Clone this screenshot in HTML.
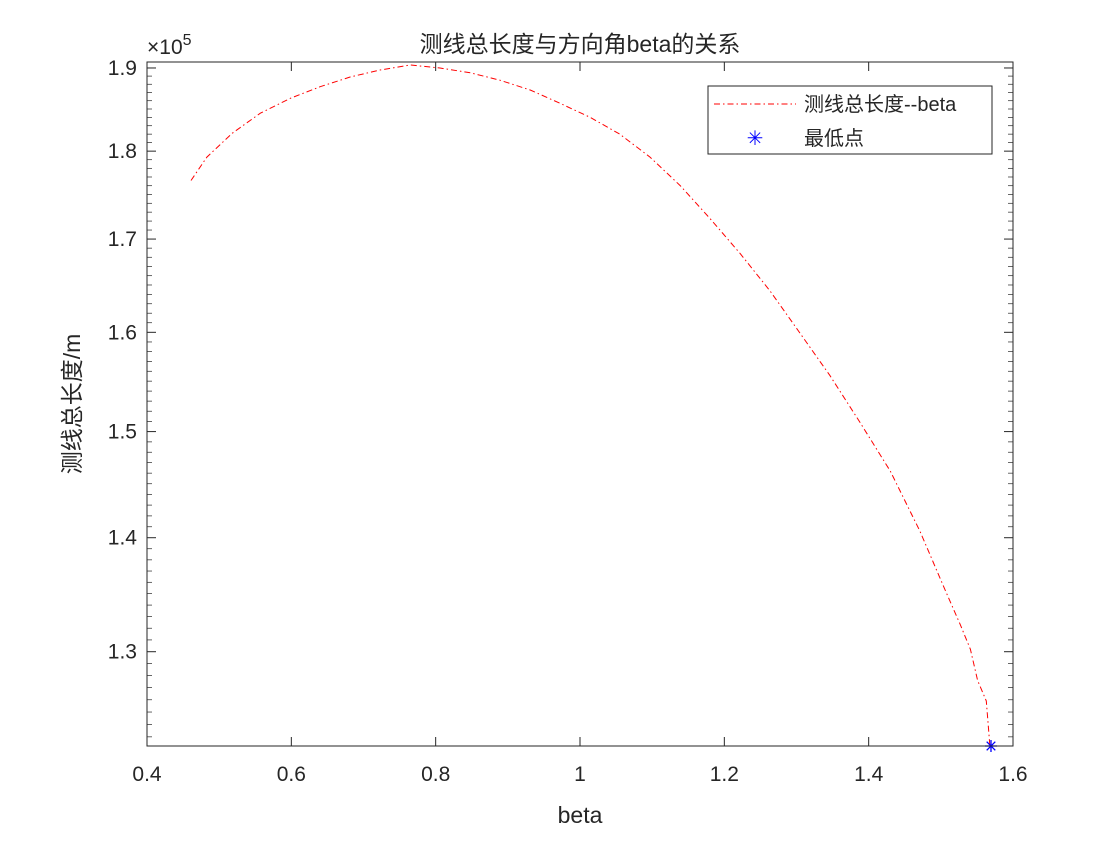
<!DOCTYPE html>
<html><head><meta charset="utf-8"><style>
body{margin:0;background:#fff;}
svg text{font-family:"Liberation Sans","Noto Sans CJK SC",sans-serif;fill:#262626;}
</style></head><body>
<svg id="chart" width="1120" height="840" xmlns="http://www.w3.org/2000/svg">
<rect width="1120" height="840" fill="#fff"/>
<g id="ticks"></g>
<path id="curve" fill="none" stroke="#ff0000" stroke-width="1" stroke-dasharray="6,3,1.5,3"/>
<g id="minpt"></g>
<rect x="147" y="62" width="866" height="684" fill="none" stroke="#262626" stroke-width="1"/>
<text x="580" y="52" text-anchor="middle" font-size="23">测线总长度与方向角beta的关系</text>
<text x="580" y="823" text-anchor="middle" font-size="23">beta</text>
<text transform="translate(80,404) rotate(-90)" text-anchor="middle" font-size="23">测线总长度/m</text>
<text x="147" y="54" font-size="21">×10<tspan dy="-9" font-size="16">5</tspan></text>
<g>
<rect x="708" y="86" width="284" height="68" fill="#fff" stroke="#262626" stroke-width="1"/>
<line x1="714" y1="104" x2="796" y2="104" stroke="#ff0000" stroke-dasharray="6,3,1.5,3"/>
<text x="804" y="111" font-size="20">测线总长度--beta</text>
<text x="755" y="145" font-size="20" fill="#0000ff" text-anchor="middle" style="fill:#0000ff">✳</text>
<text x="804" y="145" font-size="20">最低点</text>
</g>
</svg>
<script>
const betaVals=[0.461,0.483,0.518,0.557,0.599,0.640,0.682,0.723,0.765,0.806,0.848,0.889,0.931,0.972,1.014,1.055,1.097,1.139,1.180,1.222,1.263,1.305,1.346,1.388,1.430,1.471,1.506,1.527,1.541,1.551,1.563,1.568,1.5695];
const lengthVals=[1.766,1.793,1.821,1.845,1.863,1.877,1.889,1.8975,1.9037,1.900,1.894,1.885,1.873,1.857,1.840,1.820,1.793,1.760,1.723,1.684,1.644,1.599,1.556,1.509,1.462,1.406,1.353,1.323,1.302,1.276,1.259,1.2226,1.2227];
const minPoint=[1.5695,1.2227];
const xTicks=[0.4,0.6,0.8,1,1.2,1.4,1.6];
const yTicks=[1.3,1.4,1.5,1.6,1.7,1.8,1.9];
const X0=147,X1=1013,Y0=746,Y1=62,xmin=0.4,xmax=1.6,ymin=1.2227,ymax=1.9074;
const sx=v=>X0+(v-xmin)/(xmax-xmin)*(X1-X0);
const sy=v=>Y0-(Math.log(v)-Math.log(ymin))/(Math.log(ymax)-Math.log(ymin))*(Y0-Y1);
const NS="http://www.w3.org/2000/svg";
const g=document.getElementById('ticks');
function mk(t,a){const e=document.createElementNS(NS,t);for(const k in a)e.setAttribute(k,a[k]);return e;}
xTicks.forEach(v=>{const x=sx(v);
 let l=mk('line',{x1:x,x2:x,y1:Y0,y2:Y0-9,stroke:'#262626'});g.appendChild(l);
 l=mk('line',{x1:x,x2:x,y1:Y1,y2:Y1+9,stroke:'#262626'});g.appendChild(l);
 const t=mk('text',{x:x,y:Y0+35,'text-anchor':'middle','font-size':'21'});t.textContent=String(v);
 
 
 g.appendChild(t);});
yTicks.forEach(v=>{const y=sy(v);
 let l=mk('line',{x1:X0,x2:X0+9,y1:y,y2:y,stroke:'#262626'});g.appendChild(l);
 l=mk('line',{x1:X1,x2:X1-9,y1:y,y2:y,stroke:'#262626'});g.appendChild(l);
 const t=mk('text',{x:X0-10,y:y+7,'text-anchor':'end','font-size':'21'});t.textContent=v.toFixed(1);
 
 
 g.appendChild(t);});
for(let v=1.23;v<1.91;v+=0.01){if(Math.abs(v*10-Math.round(v*10))<1e-6)continue;const y=sy(v);
 g.appendChild(mk('line',{x1:X0,x2:X0+5,y1:y,y2:y,stroke:'#262626','stroke-width':0.7}));
 g.appendChild(mk('line',{x1:X1,x2:X1-5,y1:y,y2:y,stroke:'#262626','stroke-width':0.7}));}
document.getElementById('curve').setAttribute('d',betaVals.map((b,i)=>(i?'L':'M')+sx(b).toFixed(1)+','+sy(lengthVals[i]).toFixed(1)).join(''));
const mx=sx(minPoint[0]),my=sy(minPoint[1]),m=document.getElementById('minpt');
[[6,0],[0,6],[4.3,4.3],[4.3,-4.3]].forEach(([dx,dy])=>m.appendChild(mk('line',{x1:mx-dx,y1:my-dy,x2:mx+dx,y2:my+dy,stroke:'#0000ff','stroke-width':1.3})));
</script>
</body></html>
